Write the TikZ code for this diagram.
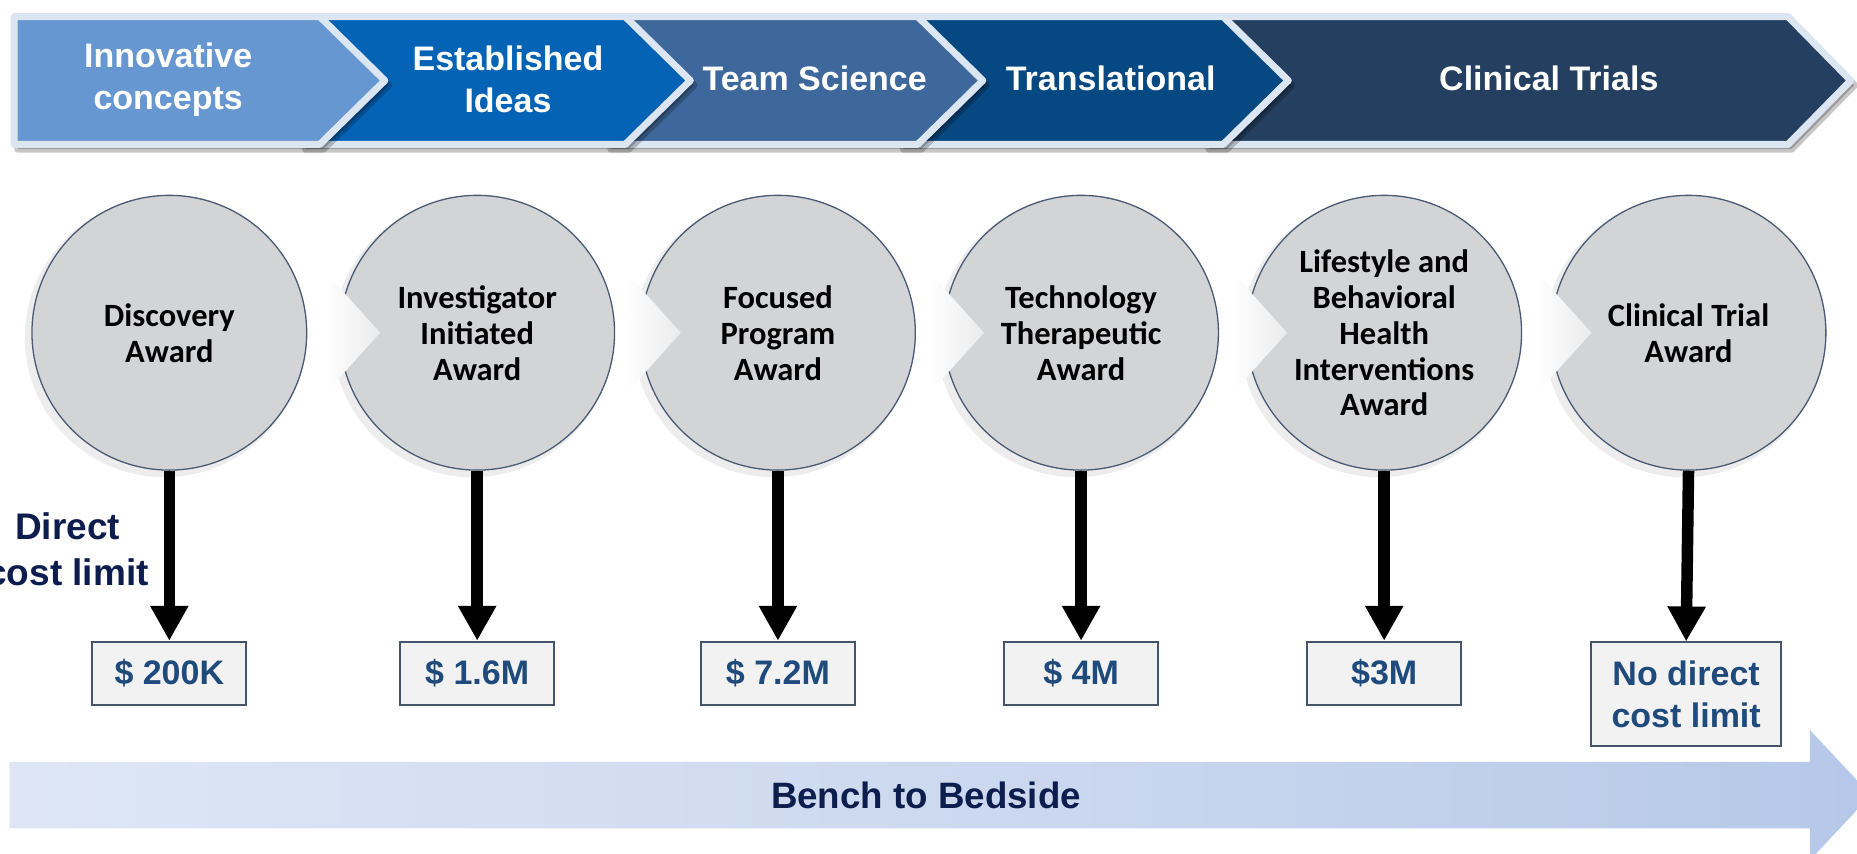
\documentclass[tikz,border=0pt]{standalone}
\usepackage{fontspec}
\setmainfont{Liberation Sans}
\newfontfamily\calibri{Carlito}
\usetikzlibrary{arrows.meta}
\definecolor{chA}{HTML}{6797D0}
\definecolor{chB}{HTML}{0563B6}
\definecolor{chC}{HTML}{3E679B}
\definecolor{chD}{HTML}{054882}
\definecolor{chE}{HTML}{243F60}
\definecolor{chBorder}{HTML}{DCE6F2}
\definecolor{circFill}{HTML}{D3D4D6}
\definecolor{circLine}{HTML}{4A5A75}
\definecolor{boxFill}{HTML}{F2F2F2}
\definecolor{boxLine}{HTML}{44546A}
\definecolor{boxText}{HTML}{1F4A7C}
\definecolor{navy}{HTML}{0D1D4D}
\definecolor{bA}{HTML}{F0F4FB}
\definecolor{bB}{HTML}{C9D6EE}
\definecolor{bC}{HTML}{AABFE5}
\definecolor{bD}{HTML}{C3D2EE}
\pgfdeclarehorizontalshading{benchshade}{100bp}{color(0bp)=(bA); color(55bp)=(bB); color(87bp)=(bC); color(100bp)=(bD)}
\tikzset{
  chevfill/.style={draw=chBorder, line width=7pt, line join=round},
  chevshadow/.style={fill=black, draw=black, fill opacity=0.22, draw opacity=0.22, line width=7pt, line join=round},
  chevtext/.style={text=white, font=\bfseries\fontsize{34}{41.5}\selectfont, align=center, inner sep=0pt},
  award/.style={circle, minimum size=274.8pt, inner sep=0pt, fill=circFill, draw=circLine, line width=1.3pt,
    align=center, font=\calibri\bfseries\fontsize{32.5}{36}\selectfont},
  circshadow/.style={fill=black, fill opacity=0.07},
  notchcover/.style={left color=white, right color=black!8},
  costbox/.style={rectangle, fill=boxFill, draw=boxLine, line width=2pt, minimum width=154pt,
    minimum height=62.8pt, inner sep=0pt, text=boxText, align=center, font=\bfseries\fontsize{34}{41.5}\selectfont},
  conn/.style={line width=11.5pt, black, -{Triangle[length=35pt,width=36pt]}},
  navytext/.style={text=navy, align=center, font=\bfseries\fontsize{37}{46}\selectfont},
}
\begin{document}
\begin{tikzpicture}[x=1.1843pt, y=-1.1843pt]
\useasboundingbox (0,0) rectangle (1568.3,721.2);
\clip (0,0) rectangle (1568.3,721.2);

% ---- top chevrons (drawn back to front) ----
\path[chevshadow] (1021,18) -- (1513,18) -- (1566,72) -- (1513,126) -- (1021,126) -- cycle;
\path[chevfill, fill=chE] (1018,14) -- (1510,14) -- (1563,68) -- (1510,122) -- (1018,122) -- cycle;
\path[chevshadow] (763,18) -- (1036,18) -- (1091,72) -- (1036,126) -- (763,126) -- cycle;
\path[chevfill, fill=chD] (760,14) -- (1033,14) -- (1088,68) -- (1033,122) -- (760,122) -- cycle;
\path[chevshadow] (516,18) -- (778,18) -- (833,72) -- (778,126) -- (516,126) -- cycle;
\path[chevfill, fill=chC] (513,14) -- (775,14) -- (830,68) -- (775,122) -- (513,122) -- cycle;
\path[chevshadow] (258,18) -- (531,18) -- (586,72) -- (531,126) -- (258,126) -- cycle;
\path[chevfill, fill=chB] (255,14) -- (528,14) -- (583,68) -- (528,122) -- (255,122) -- cycle;
\path[chevshadow] (15,18) -- (273,18) -- (328,72) -- (273,126) -- (15,126) -- cycle;
\path[chevfill, fill=chA] (12,14) -- (270,14) -- (325,68) -- (270,122) -- (12,122) -- cycle;

\node[chevtext] (t1) at (142,67.5) {Innovative\\concepts};
\node[chevtext] (t2) at (429,67) {Established\\Ideas};
\node[chevtext] (t3) at (688,66) {Team Science};
\node[chevtext] (t4) at (938,66) {Translational};
\node[chevtext] (t5) at (1308,66) {Clinical Trials};

% ---- circles ----
\foreach \cx in {143,403,657,913,1169,1426}{
  \fill[circshadow] (\cx-4,285) circle (118);
}
\node[award] (c1) at (143,281) {Discovery\\Award};
\node[award] (c2) at (403,281) {Investigator\\Initiated\\Award};
\node[award] (c3) at (657,281) {Focused\\Program\\Award};
\node[award] (c4) at (913,281) {Technology\\Therapeutic\\Award};
\node[award] (c5) at (1169,281) {Lifestyle and\\Behavioral\\Health\\Interventions\\Award};
\node[award] (c6) at (1426,281) {Clinical Trial\\Award};
\foreach \cx in {403,657,913,1169,1426}{
  \path[notchcover] (\cx-128,230) -- (\cx-82,281) -- (\cx-128,332) -- cycle;
}

% ---- cost boxes ----
\node[costbox] (b1) at (143,568.5) {\$ 200K};
\node[costbox] (b2) at (403,568.5) {\$ 1.6M};
\node[costbox] (b3) at (657,568.5) {\$ 7.2M};
\node[costbox] (b4) at (913,568.5) {\$ 4M};
\node[costbox] (b5) at (1169,568.5) {\$3M};
\node[costbox, minimum width=190.7pt, minimum height=104pt] (b6) at (1424,586.5) {No direct\\cost limit};

\foreach \i in {1,...,6}{
  \draw[conn] (c\i.south) -- (b\i.north);
}

\node[navytext] (dcl) at (57,464) {Direct\\cost limit};

% ---- bench to bedside arrow ----
\shade[shading=benchshade] (8,643.5) -- (1528.5,643.5) -- (1528.5,616.5) -- (1580,671.5) -- (1528.5,726.5) -- (1528.5,699.5) -- (8,699.5) -- cycle;
\node[navytext, font=\bfseries\fontsize{36.7}{44}\selectfont] (bench) at (782,671.5) {Bench to Bedside};
\end{tikzpicture}
\end{document}
